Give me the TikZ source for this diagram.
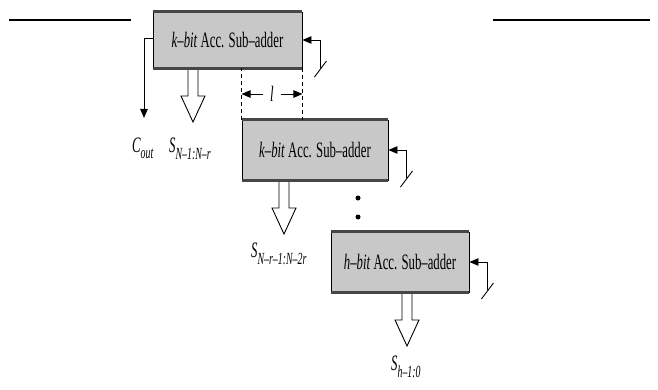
\documentclass[tikz,border=0pt]{standalone}
\usepackage{fontspec}
\setmainfont{Liberation Serif}[FakeStretch=0.58]
\usetikzlibrary{arrows.meta,calc}
\definecolor{boxgray}{RGB}{200,200,200}
\definecolor{edgegray}{RGB}{70,70,70}
\newcommand\subfs{\fontsize{17}{17}\selectfont\itshape}
\begin{document}
\begin{tikzpicture}[x=1pt,y=-1pt,
  subadder/.style={draw=black, line width=0.9pt, fill=boxgray, inner sep=0pt,
    font=\fontsize{22}{24}\selectfont},
  edge/.style={line width=2.4pt, edgegray},
  arr/.style={line width=0.9pt, -{Triangle[length=9pt,width=7.5pt]}},
  hollow/.style={draw=black, line width=0.9pt, fill=white, line join=miter},
  lab/.style={inner sep=0pt, font=\fontsize{22}{24}\selectfont\itshape},
  dotnode/.style={circle, fill=black, inner sep=0pt, minimum size=5pt},
  rule/.style={line width=1.3pt}
]
\useasboundingbox (0,0) rectangle (658,390);

% top rules
\coordinate (tl1) at (9,20);  \coordinate (tl2) at (131,20);
\coordinate (tr1) at (493,20); \coordinate (tr2) at (650,20);
\draw[rule] (tl1) -- (tl2);
\draw[rule] (tr1) -- (tr2);

% hollow output arrows (drawn first, boxes cover their tops)
\coordinate (s1) at (193,68);
\coordinate (s2) at (284,180);
\coordinate (s3) at (407,292);
\foreach \s in {s1,s2,s3}{
  \draw[hollow] (\s) ++(-5,0) -- ++(0,28) -- ++(-7,0) -- ++(12,26) -- ++(12,-26) -- ++(-7,0) -- ++(0,-28);
}

% boxes
\node[subadder, minimum width=149pt, minimum height=56pt] (b1) at (227.5,40) {\textit{k–bit} Acc. Sub–adder};
\node[subadder, minimum width=146pt, minimum height=60pt] (b2) at (315,150) {\textit{k–bit} Acc. Sub–adder};
\node[subadder, minimum width=138pt, minimum height=60pt] (b3) at (400,262) {\textit{h–bit} Acc. Sub–adder};
\foreach \b in {b1,b2,b3}{
  \draw[edge] (\b.north west) -- (\b.north east);
  \draw[edge] (\b.south west) -- (\b.south east);
}

% feedback inputs with bus slash
\foreach \b in {b1,b2,b3}{
  \coordinate (f\b) at ($(\b.east)+(18,28)$);
  \draw[arr] (f\b) |- (\b.east);
  \draw[line width=0.9pt] ($(f\b)+(-6,9)$) -- ($(f\b)+(6,-7)$);
}

% carry out
\coordinate (cend) at (144,118);
\draw[arr] ($(b1.west)+(0,-2)$) -| (cend);

% dimension l
\draw[line width=0.8pt, dash pattern=on 4pt off 3pt] (b1.south east) -- (b1.south east |- b2.north);
\draw[line width=0.8pt, dash pattern=on 4pt off 3pt] (b2.north west) -- (b2.north west |- b1.south);
\node[lab, inner xsep=7pt] (ldim) at (272,94) {l};
\draw[arr] (ldim.west) -- (ldim.west -| b2.north west);
\draw[arr] (ldim.east) -- (ldim.east -| b1.south east);

% dots
\node[dotnode] (dt1) at (358,198) {};
\node[dotnode] (dt2) at (358,217) {};

% labels
\node[lab, anchor=base west] (cout) at (132,153) {C\raisebox{-6pt}{\subfs out}};
\node[lab, anchor=base west] (sl1) at (169,153) {S\raisebox{-7pt}{\subfs N–1:N–r}};
\node[lab, anchor=base west] (sl2) at (251,257) {S\raisebox{-7pt}{\subfs N–r–1:N–2r}};
\node[lab, anchor=base west] (sl3) at (391,370) {S\raisebox{-7pt}{\subfs h–1:0}};
\end{tikzpicture}
\end{document}
